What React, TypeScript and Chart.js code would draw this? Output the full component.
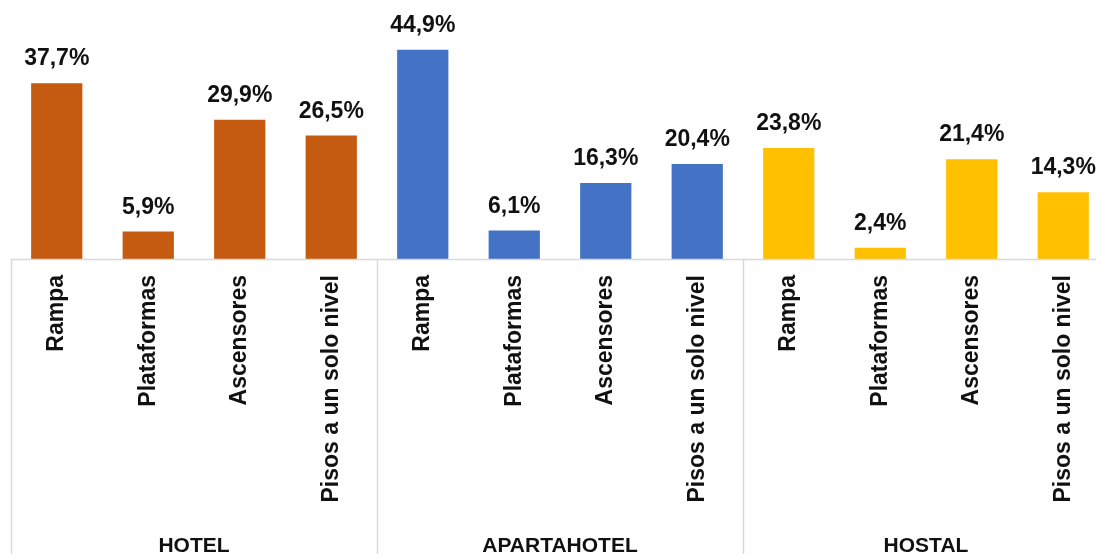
import React, { useEffect, useRef } from "react";
import Chart from "chart.js/auto";

const categories = [
  "Rampa", "Plataformas", "Ascensores", "Pisos a un solo nivel",
  "Rampa", "Plataformas", "Ascensores", "Pisos a un solo nivel",
  "Rampa", "Plataformas", "Ascensores", "Pisos a un solo nivel",
];
const groups = ["HOTEL", "APARTAHOTEL", "HOSTAL"];
const values = [37.7, 5.9, 29.9, 26.5, 44.9, 6.1, 16.3, 20.4, 23.8, 2.4, 21.4, 14.3];
const groupColors = ["#C55A11", "#4472C4", "#FFC000"];
const barColors = values.map((_, i) => groupColors[Math.floor(i / 4)]);

const FONT = "'Liberation Sans', Arial, sans-serif";

const overlay = {
  id: "overlay",
  afterDatasetsDraw(chart: any) {
    const ctx = chart.ctx;
    const xs = chart.scales.x;
    const area = chart.chartArea;
    const step = xs.getPixelForValue(1) - xs.getPixelForValue(0);
    ctx.save();
    // axis line
    ctx.strokeStyle = "#d9d9d9";
    ctx.lineWidth = 1.5;
    ctx.beginPath();
    ctx.moveTo(xs.getPixelForValue(0) - step / 2, area.bottom + 0.5);
    ctx.lineTo(chart.width, area.bottom + 0.5);
    ctx.stroke();
    // separators
    for (let g = 0; g <= groups.length; g++) {
      const x = Math.round(xs.getPixelForValue(g * 4) - step / 2) + 0.5;
      ctx.beginPath();
      ctx.moveTo(x, area.bottom);
      ctx.lineTo(x, chart.height);
      ctx.stroke();
    }
    // group labels
    ctx.fillStyle = "#111";
    ctx.font = `bold 21px ${FONT}`;
    ctx.textAlign = "center";
    ctx.textBaseline = "alphabetic";
    groups.forEach((g, gi) => {
      const x = (xs.getPixelForValue(gi * 4) + xs.getPixelForValue(gi * 4 + 3)) / 2;
      ctx.fillText(g, x, chart.height - 2);
    });
    // data labels
    ctx.font = `bold 23px ${FONT}`;
    const meta = chart.getDatasetMeta(0);
    meta.data.forEach((bar: any, i: number) => {
      const txt = values[i].toFixed(1).replace(".", ",") + "%";
      ctx.fillText(txt, bar.x, bar.y - 18);
    });
    ctx.restore();
  },
};

export default function App() {
  const ref = useRef<HTMLCanvasElement>(null);
  useEffect(() => {
    if (!ref.current) return;
    const chart = new Chart(ref.current, {
      type: "bar",
      data: {
        labels: categories,
        datasets: [
          {
            data: values,
            backgroundColor: barColors,
            barPercentage: 0.56,
            categoryPercentage: 1,
          },
        ],
      },
      options: {
        responsive: false,
        animation: false,
        layout: { padding: { left: 11, right: 11, top: 26, bottom: 0 } },
        plugins: { legend: { display: false }, tooltip: { enabled: false } },
        scales: {
          y: { display: false, min: 0, max: 50 },
          x: {
            grid: { display: false, drawTicks: false },
            border: { display: false },
            ticks: {
              minRotation: 90,
              maxRotation: 90,
              autoSkip: false,
              padding: 16,
              color: "#111",
              font: { family: FONT, size: 23, weight: "bold" },
            },
            afterFit: (scale: any) => {
              scale.height = 295;
            },
          },
        },
      },
      plugins: [overlay],
    });
    return () => chart.destroy();
  }, []);
  return (
    <div style={{ position: "fixed", left: 0, top: 0, width: 1096, height: 554, overflow: "hidden", background: "#fff" }}>
      <canvas ref={ref} width={1120} height={554} style={{ display: "block" }} />
    </div>
  );
}
